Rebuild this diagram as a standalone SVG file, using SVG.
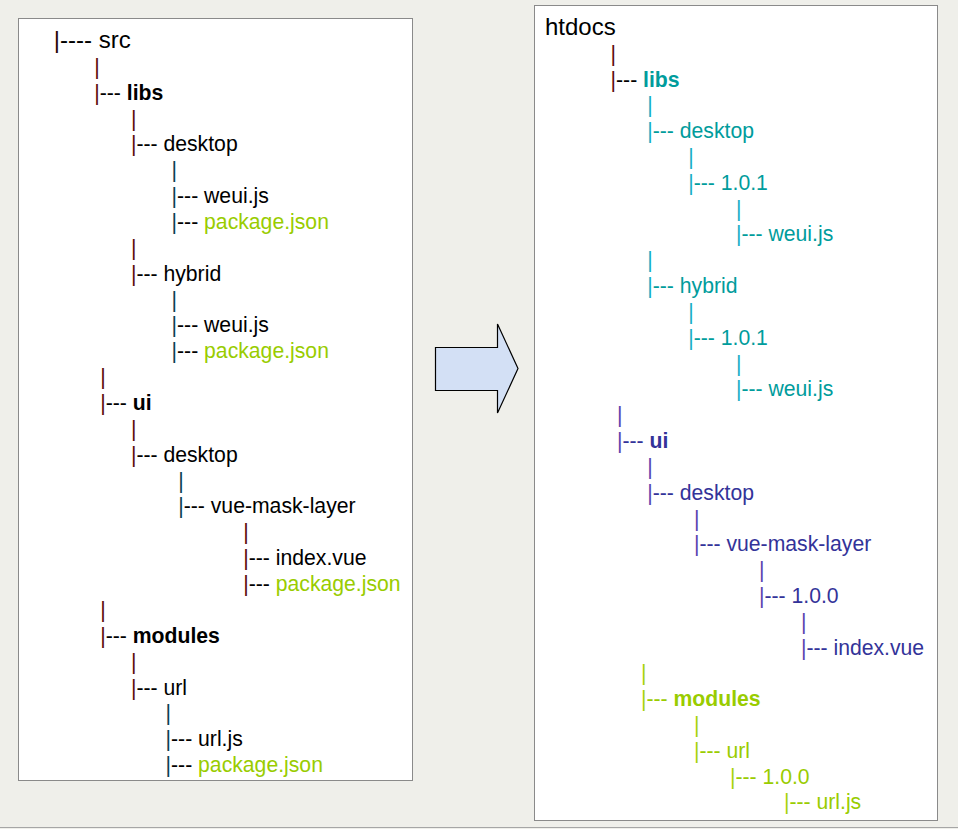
<svg xmlns="http://www.w3.org/2000/svg" width="958" height="829" viewBox="0 0 958 829">
  <defs>
    <style>
      text { font-family: "Liberation Sans", Arial, sans-serif; font-size: 21.2px; fill: #000; }
      .big { font-size: 24px; }
      .b { font-weight: bold; }
      .panel { fill: #ffffff; stroke: #8a8a8a; stroke-width: 1; }
      /* tree-line tints */
      .pm { fill: #5c0a0a; }
      .pt { fill: #0a3d52; }
      .pk { fill: #2a0505; }
      .green { fill: #99cc00; }
      .teal { fill: #009c9c; }
      .pteal { fill: #17aec6; }
      .navy { fill: #333399; }
      .pnavy { fill: #5a3fb0; }
      .lime { fill: #99cc00; }
      .plime { fill: #a6d20c; }
    </style>
  </defs>

  <!-- window background -->
  <rect x="0" y="0" width="958" height="829" fill="#efefea"/>
  <line x1="0" y1="827.5" x2="958" y2="827.5" stroke="#a6a6a6" stroke-width="1"/>

  <!-- source tree panel -->
  <rect class="panel" x="18.5" y="18.5" width="394" height="762"/>
  <!-- deployed tree panel -->
  <rect class="panel" x="534.5" y="5.5" width="403" height="815"/>

  <!-- left: vertical tree links -->
  <g id="src-connectors">
    <text x="94.2" y="73.86" class="pm">|</text>
    <text x="130.9" y="125.58" class="pm">|</text>
    <text x="171.5" y="177.3" class="pt">|</text>
    <text x="130.9" y="254.88" class="pm">|</text>
    <text x="171.5" y="306.6" class="pt">|</text>
    <text x="100.2" y="384.18" class="pm">|</text>
    <text x="130.9" y="435.9" class="pm">|</text>
    <text x="178.2" y="487.62" class="pt">|</text>
    <text x="243.2" y="539.34" class="pm">|</text>
    <text x="100.2" y="616.92" class="pm">|</text>
    <text x="130.9" y="668.64" class="pm">|</text>
    <text x="165.5" y="720.36" class="pt">|</text>
  </g>

  <!-- left: entries -->
  <g id="src-root"><text class="big" x="53.8" y="48"><tspan class="pk">|</tspan>---- src</text></g>
  <g id="src-libs"><text x="94.2" y="99.72"><tspan class="pm">|</tspan>--- <tspan class="b">libs</tspan></text></g>
  <g id="src-libs-desktop"><text x="130.9" y="151.44"><tspan class="pm">|</tspan>--- desktop</text></g>
  <g id="src-libs-desktop-weui"><text x="171.5" y="203.16"><tspan class="pt">|</tspan>--- weui.js</text></g>
  <g id="src-libs-desktop-pkg"><text x="171.5" y="229.02"><tspan class="pt">|</tspan>--- <tspan class="green">package.json</tspan></text></g>
  <g id="src-libs-hybrid"><text x="130.9" y="280.74"><tspan class="pm">|</tspan>--- hybrid</text></g>
  <g id="src-libs-hybrid-weui"><text x="171.5" y="332.46"><tspan class="pt">|</tspan>--- weui.js</text></g>
  <g id="src-libs-hybrid-pkg"><text x="171.5" y="358.32"><tspan class="pt">|</tspan>--- <tspan class="green">package.json</tspan></text></g>
  <g id="src-ui"><text x="100.2" y="410.04"><tspan class="pm">|</tspan>--- <tspan class="b">ui</tspan></text></g>
  <g id="src-ui-desktop"><text x="130.9" y="461.76"><tspan class="pm">|</tspan>--- desktop</text></g>
  <g id="src-ui-mask"><text x="178.2" y="513.48"><tspan class="pt">|</tspan>--- vue-mask-layer</text></g>
  <g id="src-ui-mask-index"><text x="243.2" y="565.2"><tspan class="pm">|</tspan>--- index.vue</text></g>
  <g id="src-ui-mask-pkg"><text x="243.2" y="591.06"><tspan class="pm">|</tspan>--- <tspan class="green">package.json</tspan></text></g>
  <g id="src-modules"><text x="100.2" y="642.78"><tspan class="pm">|</tspan>--- <tspan class="b">modules</tspan></text></g>
  <g id="src-modules-url"><text x="130.9" y="694.5"><tspan class="pm">|</tspan>--- url</text></g>
  <g id="src-modules-url-js"><text x="165.5" y="746.22"><tspan class="pt">|</tspan>--- url.js</text></g>
  <g id="src-modules-url-pkg"><text x="165.5" y="772.08"><tspan class="pt">|</tspan>--- <tspan class="green">package.json</tspan></text></g>

  <!-- block arrow between the trees -->
  <g id="arrow">
    <polygon points="435.5,347.5 497.5,347.5 497.5,324 518,368.5 497.5,413 497.5,390.5 435.5,390.5"
             fill="#d3e0f5" stroke="#000" stroke-width="1.2" stroke-linejoin="miter"/>
  </g>

  <!-- right: vertical tree links -->
  <g id="htdocs-connectors">
    <text x="610.5" y="60.6" class="pm">|</text>
    <text x="647.2" y="112.3" class="pteal">|</text>
    <text x="688.2" y="164" class="pteal">|</text>
    <text x="735.9" y="215.6" class="pteal">|</text>
    <text x="647.2" y="267.3" class="pteal">|</text>
    <text x="688.2" y="318.9" class="pteal">|</text>
    <text x="735.9" y="370.5" class="pteal">|</text>
    <text x="616.9" y="422.2" class="pnavy">|</text>
    <text x="647.2" y="473.8" class="pnavy">|</text>
    <text x="693.9" y="525.5" class="pnavy">|</text>
    <text x="758.9" y="577.1" class="pnavy">|</text>
    <text x="800.9" y="628.7" class="pnavy">|</text>
    <text x="640.9" y="680.4" class="plime">|</text>
    <text x="693.9" y="732" class="plime">|</text>
  </g>

  <!-- right: entries -->
  <g id="htdocs-root"><text class="big" x="545" y="34.5">htdocs</text></g>
  <g id="ht-libs"><text x="610.5" y="86.5"><tspan class="pm">|</tspan>--- <tspan class="b teal">libs</tspan></text></g>
  <g id="ht-libs-desktop"><text x="647.2" y="138.1" class="teal"><tspan class="pteal">|</tspan>--- desktop</text></g>
  <g id="ht-libs-desktop-ver"><text x="688.2" y="189.8" class="teal"><tspan class="pteal">|</tspan>--- 1.0.1</text></g>
  <g id="ht-libs-desktop-weui"><text x="735.9" y="241.4" class="teal"><tspan class="pteal">|</tspan>--- weui.js</text></g>
  <g id="ht-libs-hybrid"><text x="647.2" y="293.1" class="teal"><tspan class="pteal">|</tspan>--- hybrid</text></g>
  <g id="ht-libs-hybrid-ver"><text x="688.2" y="344.7" class="teal"><tspan class="pteal">|</tspan>--- 1.0.1</text></g>
  <g id="ht-libs-hybrid-weui"><text x="735.9" y="396.3" class="teal"><tspan class="pteal">|</tspan>--- weui.js</text></g>
  <g id="ht-ui"><text x="616.9" y="448" class="navy"><tspan class="pnavy">|</tspan>--- <tspan class="b">ui</tspan></text></g>
  <g id="ht-ui-desktop"><text x="647.2" y="499.6" class="navy"><tspan class="pnavy">|</tspan>--- desktop</text></g>
  <g id="ht-ui-mask"><text x="693.9" y="551.3" class="navy"><tspan class="pnavy">|</tspan>--- vue-mask-layer</text></g>
  <g id="ht-ui-mask-ver"><text x="758.9" y="602.9" class="navy"><tspan class="pnavy">|</tspan>--- 1.0.0</text></g>
  <g id="ht-ui-mask-index"><text x="800.9" y="654.5" class="navy"><tspan class="pnavy">|</tspan>--- index.vue</text></g>
  <g id="ht-modules"><text x="640.9" y="706.2" class="lime"><tspan class="plime">|</tspan>--- <tspan class="b">modules</tspan></text></g>
  <g id="ht-modules-url"><text x="693.9" y="757.8" class="lime"><tspan class="plime">|</tspan>--- url</text></g>
  <g id="ht-modules-url-ver"><text x="729.9" y="783.6" class="lime"><tspan class="plime">|</tspan>--- 1.0.0</text></g>
  <g id="ht-modules-url-js"><text x="783.9" y="809.4" class="lime"><tspan class="plime">|</tspan>--- url.js</text></g>
</svg>
